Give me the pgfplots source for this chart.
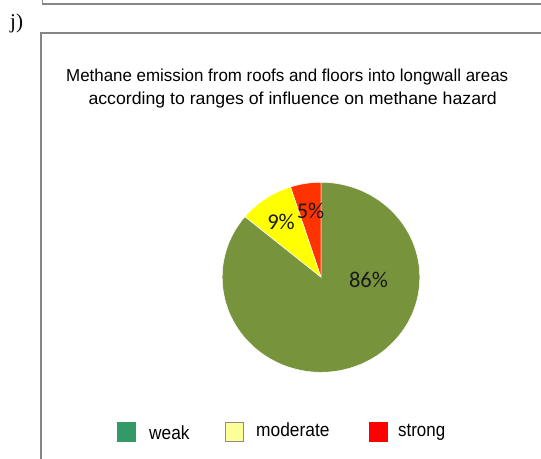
\documentclass[border=0pt]{standalone}
\usepackage{pgfplots}
\pgfplotsset{compat=1.18}
\usepackage{pgfplotstable}
\usepackage{graphicx}
\usepackage{fontspec}
\setmainfont{Liberation Sans}
\newfontfamily\calib{Carlito}
\newfontfamily\tnr{Liberation Serif}
\definecolor{pieGreen}{HTML}{77933C}
\definecolor{pieYellow}{HTML}{FFFF00}
\definecolor{pieRed}{HTML}{FF3300}
\definecolor{legGreen}{HTML}{339966}
\definecolor{legYellow}{HTML}{FFFF99}
\definecolor{legRed}{HTML}{FF0000}
\definecolor{frameGray}{HTML}{868686}
\definecolor{lblText}{HTML}{1A1A1A}
\pgfplotstableread{
label value
weak 86
moderate 9
strong 5
}\piedata
\begin{document}
\begin{tikzpicture}
\pgfplotstablegetelem{0}{value}\of\piedata \edef\vWeak{\pgfplotsretval}%
\pgfplotstablegetelem{1}{value}\of\piedata \edef\vModerate{\pgfplotsretval}%
\pgfplotstablegetelem{2}{value}\of\piedata \edef\vStrong{\pgfplotsretval}%
\pgfmathsetmacro\aRedEnd{90+3.6*\vStrong}%
\pgfmathsetmacro\aYelEnd{\aRedEnd+3.6*\vModerate}%
\pgfmathsetmacro\aGreenEnd{\aYelEnd+3.6*\vWeak}%
\begin{axis}[
  at={(0,0)}, anchor=south west,
  scale only axis, width=541bp, height=459bp,
  xmin=0, xmax=541, ymin=0, ymax=459,
  hide axis, clip=false,
]
% frames
\draw[frameGray, line width=1.6bp] (axis cs:42.5,470) -- (axis cs:42.5,455.2) -- (axis cs:560,455.2);
\draw[frameGray, line width=2.3bp] (axis cs:41.2,-10) -- (axis cs:41.2,426) -- (axis cs:560,426);
% panel label
\node[anchor=base west, inner sep=0pt] at (axis cs:10,430) {\tnr\fontsize{21bp}{24bp}\selectfont j)};
% title
\node[anchor=base west, inner sep=0pt] at (axis cs:66,377.3) {\resizebox{442bp}{\height}{\fontsize{17.3bp}{20bp}\selectfont Methane emission from roofs and floors into longwall areas}};
\node[anchor=base west, inner sep=0pt] at (axis cs:88.3,354) {\resizebox{408.4bp}{\height}{\fontsize{17.3bp}{20bp}\selectfont according to ranges of influence on methane hazard}};
% pie slices
\fill[pieRed, draw=white, line width=0.5bp] (axis cs:321,181.7) -- ++(90:98.8bp and 95bp) arc[start angle=90, end angle=\aRedEnd, x radius=98.8bp, y radius=95bp] -- cycle;
\fill[pieYellow, draw=white, line width=0.5bp] (axis cs:321,181.7) -- ++(\aRedEnd:98.8bp and 95bp) arc[start angle=\aRedEnd, end angle=\aYelEnd, x radius=98.8bp, y radius=95bp] -- cycle;
\fill[pieGreen, draw=white, line width=0.5bp] (axis cs:321,181.7) -- ++(\aYelEnd:98.8bp and 95bp) arc[start angle=\aYelEnd, end angle=\aGreenEnd, x radius=98.8bp, y radius=95bp] -- cycle;
% data labels
\node[anchor=base, inner sep=0pt, text=lblText] at (axis cs:368.5,171.3) {\calib\fontsize{22.5bp}{26bp}\selectfont \vWeak\%};
\node[anchor=base, inner sep=0pt, text=lblText] at (axis cs:281,229) {\calib\fontsize{22.5bp}{26bp}\selectfont \vModerate\%};
\node[anchor=base, inner sep=0pt, text=lblText] at (axis cs:310.5,240.7) {\calib\fontsize{22.5bp}{26bp}\selectfont \vStrong\%};
% legend
\fill[legGreen] (axis cs:117,17.3) rectangle (axis cs:136,36.7);
\filldraw[fill=legYellow, draw=gray!90, line width=0.8bp] (axis cs:225.4,17.7) rectangle (axis cs:243.6,36.3);
\fill[legRed] (axis cs:369,17.3) rectangle (axis cs:388,36.7);
\node[anchor=base west, inner sep=0pt] at (axis cs:149,19.7) {\resizebox{40.3bp}{\height}{\fontsize{19bp}{22bp}\selectfont weak}};
\node[anchor=base west, inner sep=0pt] at (axis cs:256,22.3) {\resizebox{73.3bp}{\height}{\fontsize{19bp}{22bp}\selectfont moderate}};
\node[anchor=base west, inner sep=0pt] at (axis cs:398,22.3) {\resizebox{47bp}{\height}{\fontsize{19bp}{22bp}\selectfont strong}};
\end{axis}
\pgfresetboundingbox
\path (current axis.south west) rectangle (current axis.north east);
\end{tikzpicture}
\end{document}
